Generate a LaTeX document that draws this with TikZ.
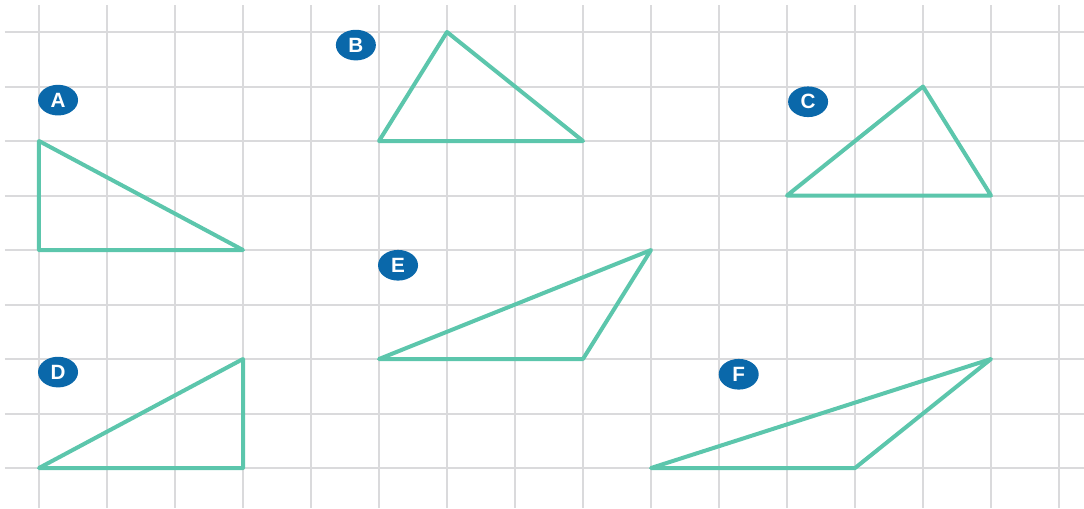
\documentclass[tikz,border=0pt]{standalone}
\usepackage{fontspec}
\setsansfont{Liberation Sans}
\usetikzlibrary{shapes.geometric}
\definecolor{gridgray}{RGB}{218,218,220}
\definecolor{teal}{RGB}{92,198,172}
\definecolor{darkblue}{RGB}{10,104,170}
\tikzset{
  tri/.style={draw=teal, line width=3pt, line join=round},
  tag/.style={ellipse, fill=darkblue, text=white, inner sep=0pt,
    minimum width=30pt, minimum height=23pt,
    font=\sffamily\bfseries\fontsize{15.5}{15.5}\selectfont}
}
\begin{document}
\begin{tikzpicture}[x=51pt, y=-40.875pt]
    % Frame of the picture
    \useasboundingbox (-0.5735,-0.5872) rectangle (15.3676,8.7339);
    % Grid
    \foreach \i in {0,...,15}
      \draw[gridgray, line width=1.5pt] (\i,-0.495) -- (\i,8.7339);
    \foreach \j in {0,...,8}
      \draw[gridgray, line width=1.5pt] (-0.5,\j) -- (15.3676,\j);
    % Triangle A
    \draw[tri] (0,2) -- (0,4) -- (3,4) -- cycle;
    % Triangle B
    \draw[tri] (5,2) -- (6,0) -- (8,2) -- cycle;
    % Triangle C
    \draw[tri] (11,3) -- (13,1) -- (14,3) -- cycle;
    % Triangle D
    \draw[tri] (0,8) -- (3,6) -- (3,8) -- cycle;
    % Triangle E
    \draw[tri] (5,6) -- (9,4) -- (8,6) -- cycle;
    % Triangle F
    \draw[tri] (9,8) -- (14,6) -- (12,8) -- cycle;
    % Labels
    \node[tag] (labA) at (0.28,1.25) {A};
    \node[tag] (labB) at (4.66,0.24) {B};
    \node[tag] (labC) at (11.31,1.28) {C};
    \node[tag] (labD) at (0.28,6.24) {D};
    \node[tag] (labE) at (5.28,4.28) {E};
    \node[tag] (labF) at (10.29,6.28) {F};
  \end{tikzpicture}
\end{document}
